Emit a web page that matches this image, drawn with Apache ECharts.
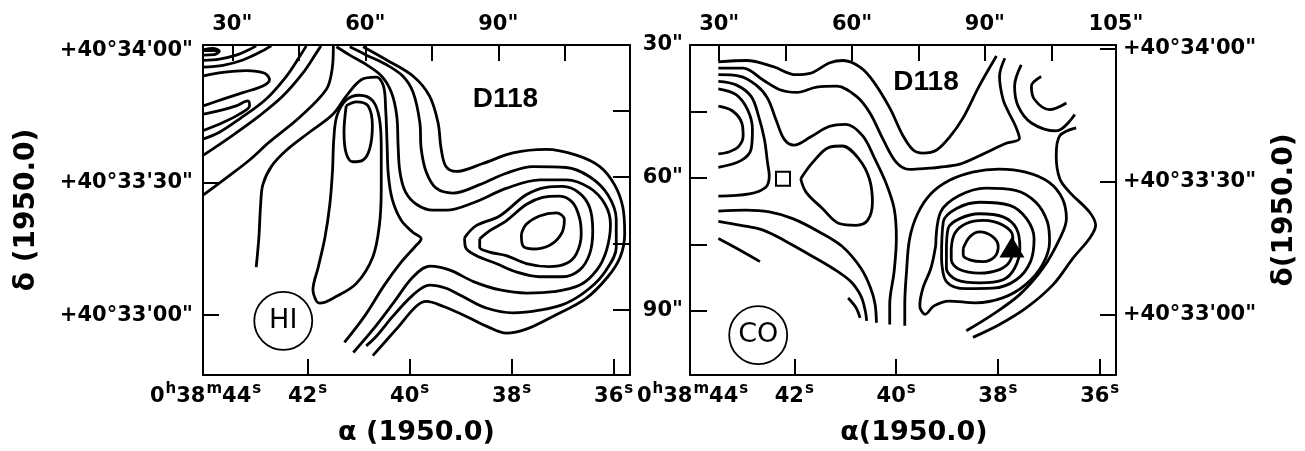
<!DOCTYPE html>
<html><head><meta charset="utf-8">
<script src="https://cdn.jsdelivr.net/npm/echarts@6/dist/echarts.min.js"></script>
<style>html,body{margin:0;padding:0;background:#fff}#c{width:1305px;height:451px}</style>
</head><body><div id="c"></div><script>
// ---------- tick values / labels ----------
const offsetTicks = [30, 45, 60, 75, 90, 105];
const offsetLabelsHI = [30, 60, 90];
const offsetLabelsCO = [30, 60, 90, 119.6];   // last label "105\"" sits at the right corner in the original
const sideTicks = [45, 60, 75, 90];
const sideLabelsCO = [30, 60, 90];
const raTicks = [36, 38, 40, 42];
const raLabelValues = [36, 38, 40, 42, 44];
const decTicks = [0, 30, 60];
const decLabels = ['+40°33\'00"', '+40°33\'30"', '+40°34\'00"'];

// ---------- HI contours (x = offset ", y = offset ") ----------
const hi_T1 = [[23.5,31.1],[25.6,30.8],[27.1,31.4],[25.8,32.2],[23.5,32.3]];
const hi_T2 = [[23.5,33.5],[27.1,33.2],[30.9,32.3],[33.9,31.0],[35.4,30.2]];
const hi_T3 = [[23.5,35.0],[27.9,34.6],[32.4,33.4],[36.5,31.5],[38.8,30.2]];
const hi_U1 = [[23.5,37.0],[27.9,36.2],[33.1,35.8],[37.3,36.4],[38.4,37.9],[36.9,39.3],[32.4,40.8],[27.9,42.3],[23.5,43.8]];
const hi_U2 = [[23.5,45.7],[27.1,44.9],[30.9,43.8],[33.5,42.7],[33.9,43.8],[31.6,45.7],[27.9,47.6],[23.5,49.4]];
const hi_D1 = [[23.5,51.3],[27.1,49.8],[31.6,46.8],[37.6,42.3],[42.2,37.1],[45.2,32.6],[46.7,30.2]];
const hi_D2 = [[23.5,55.0],[30.1,50.5],[36.1,46.1],[41.4,41.6],[45.9,36.4],[48.9,31.9],[50.0,30.2]];
const hi_D3 = [[23.5,64.0],[28.6,60.2],[33.9,56.1],[38.4,52.0],[45.2,46.4],[51.2,40.1],[52.5,35.6],[52.8,30.2]];
const hi_L1 = [[35.4,80.4],[36.0,73.7],[36.4,66.2],[36.9,61.7],[38.8,57.6],[42.2,53.9],[47.4,49.8],[52.7,45.7],[55.7,41.6],[59.1,37.9],[62.5,37.3],[64.1,39.3],[64.6,44.6],[64.9,52.0],[65.2,59.5],[66.1,65.1],[68.1,69.8],[70.7,72.5],[72.6,74.0],[71.1,75.9],[68.1,79.3],[64.3,84.5],[59.8,91.6],[55.3,97.5]];
const hi_F1 = [[49.0,88.2],[48.2,85.6],[49.4,80.4],[50.9,73.7],[52.0,66.2],[52.6,58.7],[52.9,51.3],[53.6,46.1],[55.7,42.5],[58.7,41.4],[61.7,42.7],[63.2,46.8],[63.6,53.5],[63.6,62.5],[63.2,70.7],[61.7,78.1],[58.0,84.1],[53.4,87.1],[49.7,88.6],[49.0,88.2]];
const hi_F2 = [[55.7,43.8],[58.0,42.9],[60.6,43.8],[61.6,48.3],[61.0,53.5],[59.5,56.1],[57.2,56.5],[55.7,54.6],[55.2,49.8],[55.7,43.8]];
const hi_C = [[53.5,30.4],[56.5,32.3],[60.3,34.5],[63.7,37.1],[65.9,40.8],[67.1,46.1],[67.4,52.8],[67.8,58.7],[69.0,63.2],[71.6,66.2],[75.3,67.5],[78.3,67.5],[84.4,65.8],[91.9,62.5],[99.4,60.6],[105.4,60.6],[110.7,62.5],[114.1,66.2],[115.3,70.7],[114.4,76.6],[112.2,81.1],[108.4,84.5],[102.4,86.0],[96.4,86.3],[90.4,85.6],[84.4,83.7],[79.1,81.1],[74.6,80.2],[70.8,82.6],[66.3,88.6],[61.8,94.5],[57.3,99.8]];
const hi_B = [[56.5,30.4],[60.3,32.3],[64.8,34.5],[68.5,37.1],[70.8,40.8],[72.3,47.6],[72.6,53.5],[73.7,58.7],[76.0,62.5],[79.8,63.6],[85.8,61.7],[91.8,59.1],[97.8,57.6],[105.3,57.8],[110.6,59.9],[114.7,64.0],[116.6,69.6],[116.6,75.9],[114.3,81.1],[110.6,85.2],[105.3,88.6],[99.3,90.2],[93.3,90.8],[87.3,89.7],[82.0,87.1],[78.2,85.2],[74.5,84.5],[70.8,86.7],[66.2,91.6],[62.5,96.1],[60.2,98.3]];
const hi_P = [[59.5,30.4],[64.8,33.4],[70.8,37.1],[74.5,41.6],[76.4,47.6],[77.1,53.5],[78.2,57.6],[80.5,58.7],[86.5,56.9],[93.3,54.5],[100.8,53.7],[107.6,55.0],[112.9,57.6],[116.2,61.7],[118.1,66.9],[118.5,72.9],[117.5,78.1],[114.7,82.6],[109.8,87.5],[102.3,91.6],[96.3,94.5],[91.8,95.4],[87.3,93.8],[82.8,91.6],[77.5,89.3],[73.8,88.2],[71.5,89.3],[67.0,94.5],[61.7,100.5]];
const hi_K3 = [[82.4,73.7],[85.0,71.0],[90.3,68.8],[96.3,64.0],[100.8,62.3],[104.5,62.1],[108.3,63.6],[110.6,66.9],[111.3,72.2],[110.6,77.4],[108.3,81.1],[104.5,82.6],[99.3,82.6],[94.0,81.5],[89.5,79.6],[85.0,77.8],[82.6,75.9],[82.4,73.7]];
const hi_K2 = [[85.8,74.0],[88.0,72.2],[91.8,69.9],[96.3,66.2],[100.0,64.6],[103.8,64.3],[106.8,65.8],[108.3,69.2],[108.7,72.9],[107.6,77.4],[105.3,79.6],[101.5,80.3],[96.3,79.6],[91.8,77.8],[88.0,77.0],[85.8,75.9],[85.8,74.0]];
const hi_K1 = [[95.2,72.9],[96.3,70.7],[99.3,68.8],[103.1,68.1],[104.9,69.6],[104.2,72.9],[101.5,75.5],[97.8,76.3],[95.5,75.5],[95.2,72.9]];

// ---------- CO contours ----------
const co_R1 = [[29.8,33.8],[36.2,33.5],[42.2,34.9],[47.3,36.7],[50.5,36.4],[55.0,34.0],[58.0,33.5],[61.8,35.0],[64.8,38.2],[68.5,44.2],[71.5,50.5],[73.8,53.7],[76.0,54.4],[79.1,53.7],[82.1,50.7],[85.1,46.4],[88.7,39.3],[92.6,32.5]];
const co_R2 = [[29.8,35.2],[35.4,35.2],[39.9,37.9],[43.7,40.1],[47.5,40.7],[52.0,39.5],[56.5,39.3],[61.0,41.6],[64.0,45.3],[67.0,51.3],[70.0,56.5],[73.0,58.1],[77.5,57.8],[79.7,57.6],[84.3,56.9],[88.8,55.0],[94.8,52.2],[97.8,51.1],[96.9,48.3],[95.4,45.3],[94.1,42.3],[93.3,37.1],[94.5,33.0]];
const co_R3 = [[29.8,36.7],[34.5,37.0],[38.3,39.0],[40.9,42.0],[42.8,46.8],[44.7,51.3],[46.9,52.6],[50.7,50.7],[54.8,48.4],[58.6,47.9],[62.4,50.5],[65.0,55.4],[67.6,61.0],[69.5,66.9],[70.0,73.7],[69.5,81.1],[68.5,88.6],[68.5,93.1]];
const co_R4 = [[29.8,38.2],[33.8,39.0],[37.2,41.6],[38.9,46.1],[40.2,51.3],[40.9,56.5],[41.3,59.5],[40.5,62.1],[36.8,63.6],[29.8,64.1]];
const co_U1 = [[29.8,39.9],[33.8,41.2],[36.4,44.6],[37.5,49.0],[37.2,53.5],[34.9,56.1],[29.8,57.6]];
const co_U2 = [[29.8,43.8],[33.0,44.9],[35.1,47.6],[35.4,50.5],[34.4,52.9],[32.3,54.1],[29.8,54.6]];
const co_Loop = [[48.4,60.2],[51.1,56.5],[54.8,53.1],[57.8,52.8],[61.6,55.8],[63.9,60.2],[64.6,65.5],[63.5,69.6],[60.9,70.7],[57.1,70.3],[53.3,66.9],[49.6,63.2],[48.4,60.2]];
const co_Ld = [[29.8,67.5],[36.0,67.3],[41.3,67.7],[46.6,69.2],[52.6,72.2],[57.8,75.5],[62.0,80.4],[64.2,84.9],[65.2,88.6],[65.5,92.7]];
const co_La = [[29.8,69.8],[34.9,70.7],[39.9,71.8],[45.2,74.4],[50.5,77.4],[55.6,80.4],[59.7,83.4],[62.0,86.7],[63.0,90.1],[63.3,92.3]];
const co_Lc = [[29.8,73.7],[33.9,75.9],[39.2,78.9]];
const co_Ls = [[59.1,87.1],[60.9,89.3],[61.8,91.6]];
const co_K1 = [[85.1,75.9],[86.6,73.3],[88.8,72.2],[91.8,73.3],[93.0,75.5],[92.2,77.8],[89.6,78.9],[86.6,78.5],[85.1,77.4],[85.1,75.9]];
const co_K2 = [[82.4,75.9],[83.2,72.5],[85.8,70.3],[89.6,69.6],[94.1,70.7],[96.3,73.3],[96.3,75.9],[95.6,78.9],[93.3,80.7],[88.8,81.5],[84.3,80.7],[82.4,78.5],[82.4,75.9]];
const co_K3 = [[81.3,76.6],[81.7,71.4],[84.3,69.2],[88.8,68.1],[94.1,68.8],[97.1,71.4],[97.9,75.9],[96.7,80.4],[94.1,83.0],[88.8,83.7],[83.6,83.0],[81.3,80.4],[81.3,76.6]];
const co_K4 = [[80.2,78.1],[80.6,69.9],[83.6,66.9],[88.8,65.5],[95.6,66.2],[99.4,69.2],[101.1,73.7],[100.3,78.9],[97.1,83.0],[91.8,84.9],[85.8,85.0],[81.3,83.4],[80.2,78.1]];
const co_K5 = [[78.9,75.2],[80.0,67.7],[84.2,64.0],[90.2,62.3],[96.9,62.8],[101.5,65.5],[104.1,69.9],[104.6,74.4],[103.0,79.6],[99.2,84.1],[94.0,87.1],[87.9,88.2],[81.9,87.8],[78.5,88.9],[76.5,90.8],[75.3,88.9],[76.0,84.9],[77.8,80.4],[78.9,75.2]];
const co_O2 = [[85.8,94.5],[91.8,90.8],[97.9,86.3],[103.1,80.4],[106.9,73.7],[108.4,69.2],[107.5,64.7],[104.5,61.0],[99.2,58.7],[93.2,58.0],[87.2,58.7],[81.9,60.6],[77.8,63.6],[74.8,68.1],[73.0,73.7],[72.3,81.1],[71.9,88.6],[71.9,93.4]];
const co_O1 = [[110.6,48.7],[106.9,50.5],[106.1,55.0],[106.9,60.2],[109.1,63.2],[113.6,67.7],[115.0,70.7],[113.6,73.7],[109.9,78.1],[105.4,84.1],[99.4,89.3],[93.3,93.1],[87.3,96.0]];
const co_R5 = [[98.2,34.5],[96.7,39.3],[97.5,43.8],[100.5,47.6],[106.1,49.4],[110.3,45.7]];
const co_Cs = [[102.7,37.1],[100.5,39.3],[101.2,42.3],[104.6,44.6],[108.4,43.1]];

const hiLines = [hi_T1,hi_T2,hi_T3,hi_U1,hi_U2,hi_D1,hi_D2,hi_D3,hi_L1,hi_F1,hi_F2,hi_C,hi_B,hi_P,hi_K3,hi_K2,hi_K1];
const coLines = [co_R1,co_R2,co_R3,co_R4,co_U1,co_U2,co_Loop,co_Ld,co_La,co_Lc,co_Ls,co_K1,co_K2,co_K3,co_K4,co_K5,co_O2,co_O1,co_R5,co_Cs];

// ---------- annotations ----------
const hiTag = [[91.6, 42.3]];
const coTag = [[76.7, 38.5]];
const hiBadge = [[41.5, 92.6]];
const coBadge = [[38.8, 95.5]];
const coSquare = [[44.4, 60.2]];
const coTriangle = [[96.1, 75.6]];

const FONT = 'DejaVu Sans';
const BLACK = '#000';
const lineW = 2.8;

function raLabel(v) {
  const n = Math.round(v);
  return n === 44 ? '0{s|h}38{s|m}44{s|s}' : n + '{s|s}';
}
function decLabel(v) {
  const i = decTicks.indexOf(Math.round(v));
  return i >= 0 ? decLabels[i] : '';
}
const labelBase = {color: BLACK, fontSize: 21, fontWeight: 'bold', fontFamily: FONT};
const richSup = {s: {fontSize: 15, fontFamily: FONT, color: BLACK, verticalAlign: 'top', lineHeight: 30, padding: [0, 0, 0, 1]}};
const frame = {show: true, onZero: false, lineStyle: {color: BLACK, width: 2}};
function ticks(vals, len) { return {show: true, inside: true, length: len, customValues: vals, lineStyle: {color: BLACK, width: 2}}; }

function topAxis(g, max, labels) {
  return {gridIndex: g, type: 'value', position: 'top', min: 23.4, max: max,
    axisLine: frame, axisTick: ticks(offsetTicks, 16), splitLine: {show: false},
    axisLabel: Object.assign({show: true, customValues: labels, margin: 10,
      formatter: v => (v > 110 ? '105' : Math.round(v)) + '"'}, labelBase)};
}
function raAxis(g, name, pad) {
  return {gridIndex: g, type: 'value', position: 'bottom', inverse: true, min: 35.68, max: 44.05,
    axisLine: frame, axisTick: ticks(raTicks, 16), splitLine: {show: false},
    axisLabel: Object.assign({show: true, customValues: raLabelValues, margin: 7, formatter: raLabel, rich: richSup, lineHeight: 30}, labelBase),
    name: name, nameLocation: 'middle', nameGap: 44,
    nameTextStyle: {color: BLACK, fontSize: 27, fontWeight: 'bold', fontFamily: FONT, padding: [0, 0, 0, pad]}};
}
function decAxis(g, pos, min, max, gap, name) {
  return {gridIndex: g, type: 'value', position: pos, min: min, max: max,
    axisLine: frame, axisTick: ticks(decTicks, 16), splitLine: {show: false},
    axisLabel: Object.assign({show: true, customValues: decTicks, margin: pos === 'left' ? 10 : 7, formatter: decLabel}, labelBase),
    name: name, nameLocation: 'middle', nameGap: gap, nameRotate: 90,
    nameTextStyle: {color: BLACK, fontSize: 28, fontWeight: 'bold', fontFamily: FONT}};
}
function offAxis(g, pos, max, labels) {
  return {gridIndex: g, type: 'value', position: pos, inverse: true, min: 30, max: max,
    axisLine: frame, axisTick: ticks(sideTicks, 17), splitLine: {show: false},
    axisLabel: Object.assign({show: !!labels, customValues: labels || [], margin: 7,
      formatter: v => Math.round(v) + '"'}, labelBase)};
}

function contourSeries(lines, xi, yi) {
  return lines.map(d => ({type: 'line', xAxisIndex: xi, yAxisIndex: yi, data: d, smooth: 0.35,
    symbol: 'none', silent: true, clip: true, lineStyle: {color: BLACK, width: lineW}}));
}
function tagSeries(d, xi, yi, text) {
  return {type: 'scatter', xAxisIndex: xi, yAxisIndex: yi, data: d, symbolSize: 1, silent: true,
    itemStyle: {color: 'rgba(0,0,0,0)', opacity: 1},
    label: {show: true, position: 'inside', formatter: text, color: BLACK, opacity: 1,
      fontSize: 28, fontWeight: 'bold', fontFamily: 'Liberation Sans'}};
}
function badgeSeries(d, xi, yi, text) {
  return {type: 'scatter', xAxisIndex: xi, yAxisIndex: yi, data: d, symbol: 'circle', symbolSize: 58, silent: true,
    itemStyle: {color: '#fff', borderColor: BLACK, borderWidth: 1.8, opacity: 1},
    label: {show: true, position: 'inside', formatter: text, color: BLACK, opacity: 1,
      fontSize: 27, fontFamily: FONT}};
}

const option = {
  animation: false,
  backgroundColor: '#fff',
  grid: [
    {left: 203, top: 45, width: 427, height: 335},
    {left: 690, top: 45, width: 426, height: 333}
  ],
  xAxis: [
    topAxis(0, 119.7, offsetLabelsHI),
    raAxis(0, 'α (1950.0)', 0),
    topAxis(1, 119.6, offsetLabelsCO),
    raAxis(1, 'α(1950.0)', 22)
  ],
  yAxis: [
    offAxis(0, 'right', 104.9, null),
    decAxis(0, 'left', -13.6, 61.3, 162, 'δ (1950.0)'),
    offAxis(1, 'left', 104.5, sideLabelsCO),
    decAxis(1, 'right', -13.7, 60.9, 155, 'δ(1950.0)')
  ],
  series: [].concat(
    contourSeries(hiLines, 0, 0),
    contourSeries(coLines, 2, 2),
    [tagSeries(hiTag, 0, 0, 'D118'), tagSeries(coTag, 2, 2, 'D118'),
     badgeSeries(hiBadge, 0, 0, 'HI'), badgeSeries(coBadge, 2, 2, 'CO'),
     {type: 'scatter', xAxisIndex: 2, yAxisIndex: 2, data: coSquare, symbol: 'rect', symbolSize: 14, silent: true,
      itemStyle: {color: '#fff', borderColor: BLACK, borderWidth: 2, opacity: 1}},
     {type: 'scatter', xAxisIndex: 2, yAxisIndex: 2, data: coTriangle, symbol: 'triangle', symbolSize: [25, 21], silent: true,
      itemStyle: {color: BLACK, opacity: 1}}]
  )
};
const chart = echarts.init(document.getElementById('c'), null, {renderer: 'canvas'});
chart.setOption(option);
</script></body></html>
